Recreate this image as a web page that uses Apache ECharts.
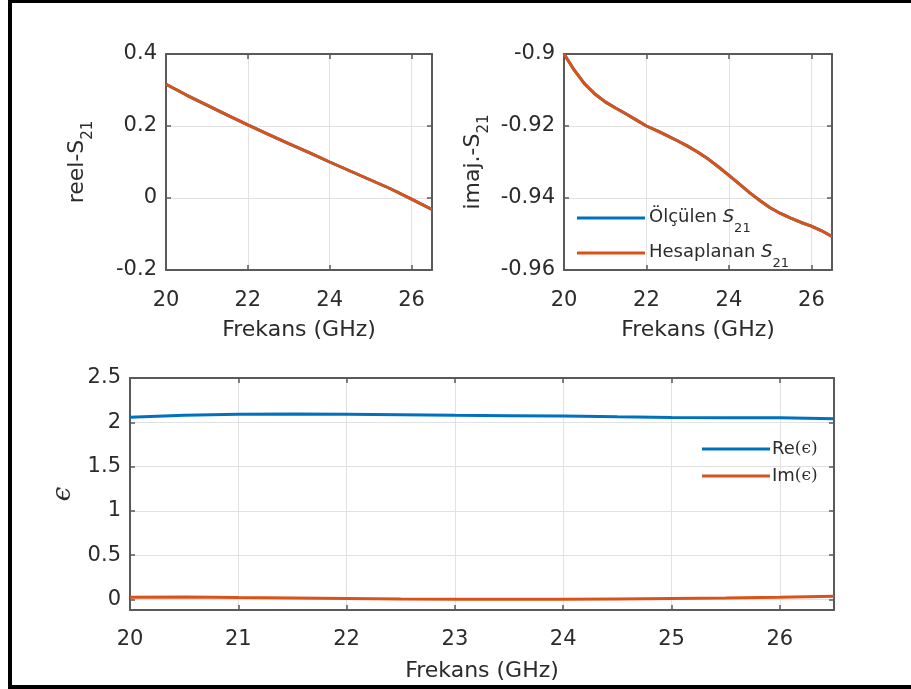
<!DOCTYPE html>
<html><head><meta charset="utf-8">
<script src="https://cdn.jsdelivr.net/npm/echarts@6/dist/echarts.min.js"></script>
<style>
html,body{margin:0;padding:0;background:#fff;overflow:hidden;width:911px;height:689px;}
#c{position:absolute;left:0;top:0;width:911px;height:689px;}
#frame{position:absolute;left:8px;top:0;width:899px;height:682px;border-left:4px solid #000;border-top:3px solid #000;border-bottom:4px solid #000;pointer-events:none;}
</style></head><body><div id="c"></div><div id="frame"></div>
<script>
// ---------- data ----------
const freqS = [20,20.5,21,21.5,22,22.5,23,23.5,24,24.5,25,25.5,26,26.5];
const reelMeasured = [0.316,0.286,0.258,0.230,0.203,0.177,0.151,0.126,0.100,0.075,0.050,0.025,-0.003,-0.032];
const reelCalc     = [0.316,0.286,0.258,0.230,0.203,0.177,0.151,0.126,0.100,0.075,0.050,0.025,-0.003,-0.032];

const freqI = [20,20.25,20.5,20.75,21,21.25,21.5,21.75,22,22.25,22.5,22.75,23,23.25,23.5,23.75,24,24.25,24.5,24.75,25,25.25,25.5,25.75,26,26.25,26.5];
const imagMeasured = [-0.9000,-0.9045,-0.9083,-0.9111,-0.9133,-0.9150,-0.9166,-0.9183,-0.9200,-0.9213,-0.9227,-0.9241,-0.9256,-0.9273,-0.9292,-0.9314,-0.9337,-0.9361,-0.9385,-0.9407,-0.9427,-0.9443,-0.9456,-0.9468,-0.9478,-0.9491,-0.9507];
const imagCalc     = [-0.9000,-0.9045,-0.9083,-0.9111,-0.9133,-0.9150,-0.9166,-0.9183,-0.9200,-0.9213,-0.9227,-0.9241,-0.9256,-0.9273,-0.9292,-0.9314,-0.9337,-0.9361,-0.9385,-0.9407,-0.9427,-0.9443,-0.9456,-0.9468,-0.9478,-0.9491,-0.9507];

const freqE = [20,20.5,21,21.5,22,22.5,23,23.5,24,24.5,25,25.5,26,26.5];
const epsRe = [2.058,2.080,2.092,2.094,2.090,2.085,2.078,2.074,2.070,2.062,2.055,2.052,2.050,2.040];
const epsIm = [0.025,0.027,0.020,0.015,0.010,0.003,0.000,0.000,0.000,0.005,0.010,0.016,0.024,0.035];

const ticksX1 = [20,22,24,26];
const ticksX2 = [20,21,22,23,24,25,26];
const ticksReel = [-0.2,0,0.2,0.4];
const ticksImag = [-0.96,-0.94,-0.92,-0.9];
const ticksEps = [0,0.5,1,1.5,2,2.5];

// ---------- style ----------
const FONT = 'DejaVu Sans';
const TXT = '#2b2b2b';
const AX = '#5a5a5a';
const GRIDC = '#e2e2e2';
const BLUE = '#0072BD';
const ORANGE = '#D95319';

function pairs(xs, ys){ return xs.map((x,i)=>[x, ys[i]]); }

function xAxes(gi, min, max, ticks, withName, labelMargin, nameGap){
  return [{
    type:'value', gridIndex:gi, position:'bottom', min:min, max:max,
    name: withName ? 'Frekans (GHz)' : '', nameLocation:'middle', nameGap:nameGap,
    nameTextStyle:{fontFamily:FONT, fontSize:22, color:TXT},
    axisLine:{show:true, onZero:false, lineStyle:{color:AX, width:2}},
    axisTick:{show:true, inside:true, length:5, customValues:ticks, lineStyle:{color:AX, width:1.5}},
    axisLabel:{show:true, customValues:ticks, margin:labelMargin, fontFamily:FONT, fontSize:21, color:TXT},
    splitLine:{show:true, lineStyle:{color:GRIDC, width:1}}
  },{
    type:'value', gridIndex:gi, position:'top', min:min, max:max,
    axisLine:{show:true, onZero:false, lineStyle:{color:AX, width:2}},
    axisTick:{show:true, inside:true, length:5, customValues:ticks, lineStyle:{color:AX, width:1.5}},
    axisLabel:{show:false},
    splitLine:{show:false}
  }];
}
function yAxes(gi, min, max, ticks, name, gap, nameRich){
  return [{
    type:'value', gridIndex:gi, position:'left', min:min, max:max,
    name:name, nameLocation:'middle', nameGap:gap, nameRotate:90,
    nameTextStyle:{fontFamily:FONT, fontSize:22, color:TXT, rich:nameRich},
    axisLine:{show:true, onZero:false, lineStyle:{color:AX, width:2}},
    axisTick:{show:true, inside:true, length:5, customValues:ticks, lineStyle:{color:AX, width:1.5}},
    axisLabel:{show:true, customValues:ticks, margin:9, fontFamily:FONT, fontSize:21, color:TXT},
    splitLine:{show:true, lineStyle:{color:GRIDC, width:1}}
  },{
    type:'value', gridIndex:gi, position:'right', min:min, max:max,
    axisLine:{show:true, onZero:false, lineStyle:{color:AX, width:2}},
    axisTick:{show:true, inside:true, length:5, customValues:ticks, lineStyle:{color:AX, width:1.5}},
    axisLabel:{show:false},
    splitLine:{show:false}
  }];
}

const subRich = {
  n:{fontFamily:FONT, fontSize:22, color:TXT, lineHeight:22, verticalAlign:'top'},
  s:{fontFamily:FONT, fontSize:15, color:TXT, lineHeight:15, padding:[15,0,0,0], verticalAlign:'top'}
};
const epsRich = {
  e:{fontFamily:'DejaVu Serif', fontStyle:'italic', fontSize:26, color:TXT}
};

const xA = [].concat(
  xAxes(0,20,26.5,ticksX1,true,20,49),
  xAxes(1,20,26.5,ticksX1,true,20,49),
  xAxes(2,20,26.5,ticksX2,true,19,50)
);
const yA = [].concat(
  yAxes(0,-0.2,0.4,ticksReel,'{n|reel-S}{s|21}',78,subRich),
  yAxes(1,-0.96,-0.9,ticksImag,'{n|imaj.-S}{s|21}',80,subRich),
  yAxes(2,-0.12,2.5,ticksEps,'{e|ϵ}',52,epsRich)
);

function line(name, xi, yi, data, color){
  return {type:'line', name:name, xAxisIndex:xi, yAxisIndex:yi, data:data,
    showSymbol:false, symbol:'none', smooth:false, clip:true,
    lineStyle:{color:color, width:3}, itemStyle:{color:color}, emphasis:{disabled:true}};
}

const legendRichTop = {
  n:{fontFamily:FONT, fontSize:18, color:TXT, lineHeight:20, verticalAlign:'top'},
  i:{fontFamily:FONT, fontSize:18, fontStyle:'italic', color:TXT, lineHeight:20, verticalAlign:'top'},
  s:{fontFamily:FONT, fontSize:13, color:TXT, lineHeight:13, padding:[14,0,0,0], verticalAlign:'top'}
};
const legendRichBot = {
  n:{fontFamily:FONT, fontSize:18, color:TXT},
  m:{fontFamily:'DejaVu Serif', fontSize:17, color:TXT}
};

const option = {
  animation:false,
  backgroundColor:'transparent',
  grid:[
    {left:166, top:54, width:266, height:216, containLabel:false},
    {left:564, top:54, width:268, height:216, containLabel:false},
    {left:130, top:378, width:704, height:232, containLabel:false}
  ],
  xAxis:xA,
  yAxis:yA,
  legend:[{
    data:['Ölçülen S21','Hesaplanan S21'], orient:'vertical', left:577, top:208,
    itemWidth:68, itemHeight:3, icon:'rect', itemGap:8, padding:0,
    formatter:function(n){ return n==='Ölçülen S21' ? '{n|Ölçülen }{i|S}{s|21}' : '{n|Hesaplanan }{i|S}{s|21}'; },
    textStyle:{rich:legendRichTop, padding:[0,0,0,-1]},
    selectedMode:false
  },{
    data:['Re(ϵ)','Im(ϵ)'], orient:'vertical', left:702, top:440,
    itemWidth:68, itemHeight:3, icon:'rect', itemGap:9, padding:0,
    formatter:function(n){ return n==='Re(ϵ)' ? '{n|Re}{m|(ϵ)}' : '{n|Im}{m|(ϵ)}'; },
    textStyle:{rich:legendRichBot, padding:[0,0,0,-3]},
    selectedMode:false
  }],
  series:[
    line('Ölçülen S21', 0, 0, pairs(freqS, reelMeasured), BLUE),
    line('Hesaplanan S21', 0, 0, pairs(freqS, reelCalc), ORANGE),
    line('Ölçülen S21', 2, 2, pairs(freqI, imagMeasured), BLUE),
    line('Hesaplanan S21', 2, 2, pairs(freqI, imagCalc), ORANGE),
    line('Re(ϵ)', 4, 4, pairs(freqE, epsRe), BLUE),
    line('Im(ϵ)', 4, 4, pairs(freqE, epsIm), ORANGE)
  ]
};
const chart = echarts.init(document.getElementById('c'), null, {renderer:'canvas'});
chart.setOption(option);
</script></body></html>
